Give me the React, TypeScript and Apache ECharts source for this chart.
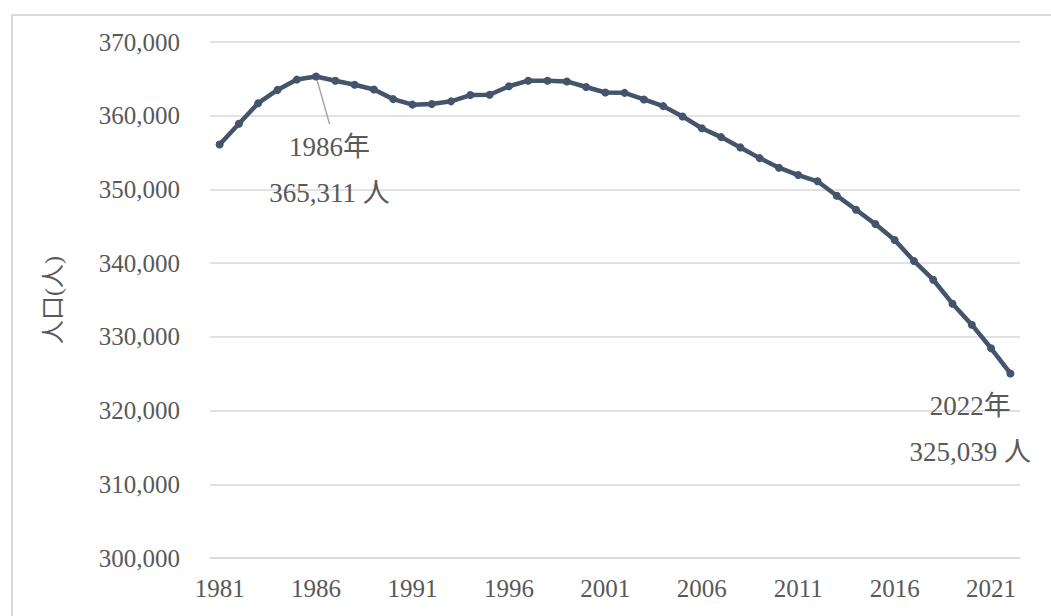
import React, { useEffect, useRef } from "react";
import * as echarts from "echarts";

const years: string[] = [];
for (let y = 1981; y <= 2022; y++) years.push(String(y));

const population: number[] = [
  356100, 358900, 361700, 363500, 364900, 365311, 364750, 364200, 363550, 362250,
  361500, 361600, 361950, 362800, 362850, 364000, 364750, 364750, 364650, 363900,
  363150, 363100, 362200, 361300, 359900, 358300, 357100, 355700, 354250, 352950,
  351950, 351100, 349150, 347250, 345300, 343150, 340300, 337750, 334500, 331650,
  328450, 325039,
];

const annotatedYears: string[] = ["1986", "2022"];

const yAxisName = "人口(人)";
const FONT = "Liberation Serif, Noto Sans CJK JP, serif";
const TEXT = "#595959";
const LINE = "#44546A";
const GRID = "#D9D9D9";

const fmt = (v: number) => v.toLocaleString("en-US");

export default function App() {
  const ref = useRef<HTMLDivElement>(null);
  useEffect(() => {
    if (!ref.current) return;
    const chart = echarts.init(ref.current, undefined, { renderer: "svg" });
    const data = population.map((v, i) => {
      const yr = years[i];
      if (!annotatedYears.includes(yr)) return v;
      return {
        value: v,
        label: {
          show: true,
          position: "bottom",
          distance: 0,
          formatter: `${yr}年\n${fmt(v)} 人`,
          fontFamily: FONT,
          fontSize: 27,
          lineHeight: 46,
          color: TEXT,
          align: "center",
        },
        labelLine: yr === "1986" ? { show: true, lineStyle: { color: "#A6A6A6", width: 1.5 } } : { show: false },
      };
    });
    chart.setOption({
      animation: false,
      textStyle: { fontFamily: FONT },
      graphic: [
        {
          type: "rect",
          left: 9.5,
          top: 12.5,
          shape: { width: 1200, height: 800 },
          style: { fill: "none", stroke: GRID, lineWidth: 2 },
          silent: true,
          z: -10,
        },
      ],
      grid: { left: 210, right: 31, top: 42, bottom: 58, containLabel: false },
      xAxis: {
        type: "category",
        data: years,
        boundaryGap: true,
        axisLine: { show: true, lineStyle: { color: GRID, width: 1.5 } },
        axisTick: { show: false },
        axisLabel: {
          interval: 4,
          color: TEXT,
          fontFamily: FONT,
          fontSize: 25,
          margin: 18,
        },
      },
      yAxis: {
        type: "value",
        min: 300000,
        max: 370000,
        interval: 10000,
        name: yAxisName,
        nameLocation: "middle",
        nameGap: 145,
        nameTextStyle: { color: TEXT, fontFamily: FONT, fontSize: 24 },
        axisLine: { show: false },
        axisTick: { show: false },
        splitLine: { lineStyle: { color: GRID, width: 1.5 } },
        axisLabel: {
          color: TEXT,
          fontFamily: FONT,
          fontSize: 25,
          margin: 30,
          formatter: (v: number) => fmt(v),
        },
      },
      series: [
        {
          type: "line",
          data,
          symbol: "circle",
          symbolSize: 8,
          lineStyle: { color: LINE, width: 4.5 },
          itemStyle: { color: LINE },
          label: { show: false },
          labelLayout: (p: any) => {
            const yr = years[p.dataIndex];
            if (yr === "1986") return { dx: 13.5, dy: 43.5 };
            if (yr === "2022") return { dx: -40, dy: 6 };
            return {};
          },
        },
      ],
    });
    return () => chart.dispose();
  }, []);
  return (
    <div
      ref={ref}
      style={{ position: "fixed", left: 0, top: 0, width: 1051, height: 616, background: "#fff" }}
    />
  );
}
